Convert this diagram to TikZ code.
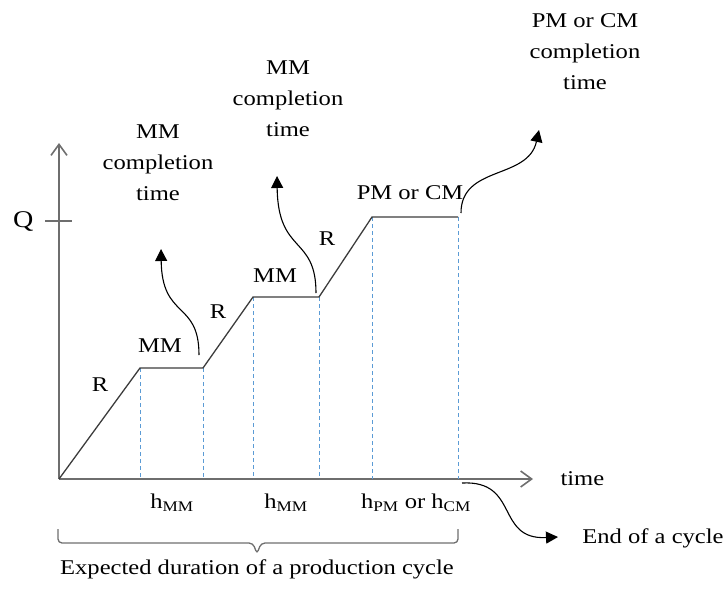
\documentclass[tikz,border=0pt]{standalone}
\usepackage{fontspec}
\setmainfont[FakeStretch=1.17]{Liberation Serif}
\usetikzlibrary{arrows.meta, positioning}
\definecolor{axisgray}{RGB}{110,110,110}
\definecolor{stepgray}{RGB}{60,60,60}
\definecolor{guideblue}{RGB}{91,155,213}

\begin{document}
\begin{tikzpicture}[
x=1pt, y=-1pt,
font=\fontsize{21}{31}\selectfont,
axis/.style  = {draw=axisgray, line width=1.6pt,
                -{Straight Barb[length=11pt, width=16pt]}},
stepline/.style = {draw=stepgray, line width=1.3pt},
guide/.style = {draw=guideblue, line width=1pt, dash pattern=on 4pt off 3pt},
flow/.style  = {draw=black, line width=1.1pt,
                -{Triangle[length=12pt, width=12pt]}},
bracket/.style = {draw=axisgray, line width=1.3pt, rounded corners=4pt},
note/.style  = {align=center},
                        ]
\useasboundingbox (0,0) rectangle (727,590);
% axes
\coordinate (o)    at (59,479);
\coordinate (ytip) at (59,143);
\coordinate (xtip) at (533,479);
\draw[axis] (o) -- (ytip);
\draw[axis] (o) -- (xtip);
\coordinate (qtick) at (59,221);
\draw[draw=axisgray, line width=1.6pt] ([xshift=-14pt]qtick) -- ([xshift=13pt]qtick);
\node (q) [left=22pt of qtick, font=\fontsize{24}{28}\selectfont]  {Q};
\node (time) [right=24pt of xtip] {time};
% production curve
\coordinate (a) at (140,368);
\coordinate (b) at (203,368);
\coordinate (c) at (253,297);
\coordinate (d) at (319,297);
\coordinate (e) at (372,217);
\coordinate (f) at (458,217);
\foreach \p in {a,b,c,d,e,f}
  \draw[guide] (\p) -- (\p |- o);
\draw[stepline] (o) -- (a) -- (b) -- (c) -- (d) -- (e) -- (f);
\node (r1)  at (100,385) {R};
\node (mm1) at (160,346) {MM};
\node (r2)  at (218,312) {R};
\node (mm2) at (275,276) {MM};
\node (r3)  at (327,239) {R};
\node (pc)  at (410,193) {PM or CM};
% durations
\node (h1) at (172,503) {h\textsubscript{MM}};
\node (h2) at (286,503) {h\textsubscript{MM}};
\node (h3) at (416,503) {h\textsubscript{PM} or h\textsubscript{CM}};
\coordinate (bl)  at (58,529);
\coordinate (br)  at (458,529);
\coordinate (tip) at (257,554);
\draw[bracket] (bl) |- ([xshift=-4pt]tip |- 0,543) -- (tip)
               -- ([xshift=4pt]tip |- 0,543) -| (br);
\node (cycle) [below=2pt of tip] {Expected duration of a production cycle};
% completion times
\node (t1) [note] at (158,163) {MM\\completion\\time};
\node (t2) [note] at (288,99)  {MM\\completion\\time};
\node (t3) [note] at (585,52)  {PM or CM\\completion\\time};
\node (end) at (653,538) {End of a cycle};
\coordinate (s1) at (199,355);
\coordinate (e1) at (161,249);
\coordinate (s2) at (316,293);
\coordinate (e2) at (277,176);
\coordinate (s3) at (461,213);
\coordinate (e3) at (539,130);
\coordinate (s4) at (462,483);
\coordinate (e4) at (558,537);
\draw[flow] (s1) .. controls (199,300) and (162,320) .. (e1);
\draw[flow] (s2) .. controls (316,235) and (278,255) .. (e2);
\draw[flow] (s3) .. controls (461,165) and (528,180) .. (e3);
\draw[flow] (s4) .. controls (520,480) and (495,540) .. (e4);
\end{tikzpicture}
\end{document}
